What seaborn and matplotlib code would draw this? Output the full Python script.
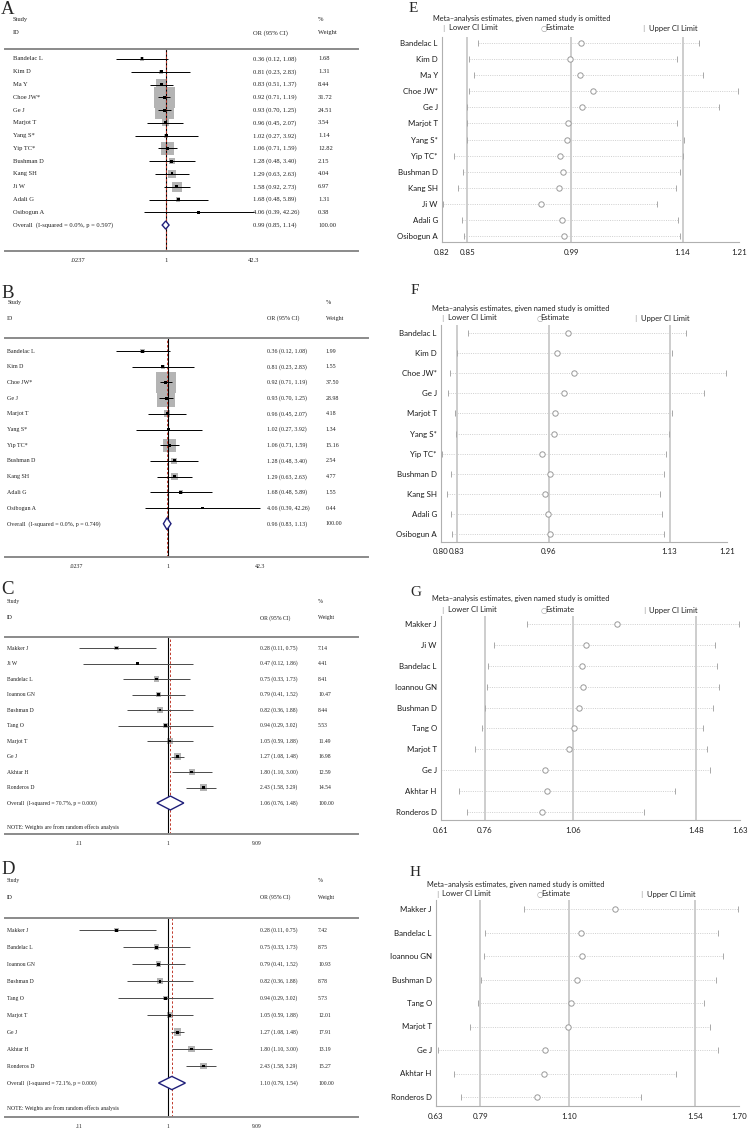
import numpy as np
import pandas as pd
import matplotlib
matplotlib.use("Agg")
import matplotlib.pyplot as plt
import seaborn as sns
from matplotlib.patches import Polygon
from matplotlib.ticker import NullLocator
from matplotlib.transforms import blended_transform_factory

# ---------------- data: forest plots (left column) ----------------
a_study = ["Bandelac L", "Kim D", "Ma Y", "Choe JW*", "Ge J", "Marjot T", "Yang S*",
           "Yip TC*", "Bushman D", "Kang SH", "Ji W", "Adali G", "Osibogun A"]
a_or = [0.36, 0.81, 0.83, 0.92, 0.93, 0.96, 1.02, 1.06, 1.28, 1.29, 1.58, 1.68, 4.06]
a_lo = [0.12, 0.23, 0.51, 0.71, 0.70, 0.45, 0.27, 0.71, 0.48, 0.63, 0.92, 0.48, 0.39]
a_hi = [1.08, 2.83, 1.37, 1.19, 1.25, 2.07, 3.92, 1.59, 3.40, 2.63, 2.73, 5.89, 42.26]
a_wt = [1.68, 1.31, 8.44, 31.72, 24.51, 3.54, 1.14, 12.82, 2.15, 4.04, 6.97, 1.31, 0.38]
a_overall = [0.99, 0.85, 1.14]
a_het = "Overall  (I-squared = 0.0%, p = 0.597)"
a_ticks = [0.0237, 1, 42.3]
a_ticklabels = [".0237", "1", "42.3"]

b_study = ["Bandelac L", "Kim D", "Choe JW*", "Ge J", "Marjot T", "Yang S*", "Yip TC*",
           "Bushman D", "Kang SH", "Adali G", "Osibogun A"]
b_or = [0.36, 0.81, 0.92, 0.93, 0.96, 1.02, 1.06, 1.28, 1.29, 1.68, 4.06]
b_lo = [0.12, 0.23, 0.71, 0.70, 0.45, 0.27, 0.71, 0.48, 0.63, 0.48, 0.39]
b_hi = [1.08, 2.83, 1.19, 1.25, 2.07, 3.92, 1.59, 3.40, 2.63, 5.89, 42.26]
b_wt = [1.99, 1.55, 37.50, 28.98, 4.18, 1.34, 15.16, 2.54, 4.77, 1.55, 0.44]
b_overall = [0.96, 0.83, 1.13]
b_het = "Overall  (I-squared = 0.0%, p = 0.749)"

c_study = ["Makker J", "Ji W", "Bandelac L", "Ioannou GN", "Bushman D", "Tang O",
           "Marjot T", "Ge J", "Akhtar H", "Ronderos D"]
c_or = [0.28, 0.47, 0.75, 0.79, 0.82, 0.94, 1.05, 1.27, 1.80, 2.43]
c_lo = [0.11, 0.12, 0.33, 0.41, 0.36, 0.29, 0.59, 1.08, 1.10, 1.58]
c_hi = [0.75, 1.86, 1.73, 1.52, 1.88, 3.02, 1.88, 1.48, 3.00, 3.29]
c_wt = [7.14, 4.41, 8.41, 10.47, 8.44, 5.53, 11.49, 16.98, 12.59, 14.54]
c_overall = [1.06, 0.76, 1.48]
c_het = "Overall  (I-squared = 70.7%, p = 0.000)"
c_ticks = [0.11, 1, 9.09]
c_ticklabels = [".11", "1", "9.09"]

d_study = ["Makker J", "Bandelac L", "Ioannou GN", "Bushman D", "Tang O", "Marjot T",
           "Ge J", "Akhtar H", "Ronderos D"]
d_or = [0.28, 0.75, 0.79, 0.82, 0.94, 1.05, 1.27, 1.80, 2.43]
d_lo = [0.11, 0.33, 0.41, 0.36, 0.29, 0.59, 1.08, 1.10, 1.58]
d_hi = [0.75, 1.73, 1.52, 1.88, 3.02, 1.88, 1.48, 3.00, 3.29]
d_wt = [7.42, 8.75, 10.93, 8.78, 5.73, 12.01, 17.91, 13.19, 15.27]
d_overall = [1.10, 0.79, 1.54]
d_het = "Overall  (I-squared = 72.1%, p = 0.000)"

note = "NOTE: Weights are from random effects analysis"

# ---------------- data: sensitivity plots (right column) ----------------
e_est = [1.003, 0.988, 1.002, 1.019, 1.004, 0.986, 0.985, 0.975, 0.979, 0.974, 0.950, 0.978, 0.980]
e_lo = [0.865, 0.852, 0.859, 0.853, 0.849, 0.850, 0.850, 0.832, 0.844, 0.838, 0.817, 0.843, 0.846]
e_hi = [1.162, 1.133, 1.168, 1.215, 1.189, 1.133, 1.142, 1.141, 1.136, 1.131, 1.106, 1.134, 1.136]
e_range = [0.816, 1.216]
e_ticklabels = ["0.82", "0.85", "0.99", "1.14", "1.21"]

f_est = [0.987, 0.971, 0.996, 0.982, 0.968, 0.967, 0.951, 0.961, 0.954, 0.959, 0.962]
f_lo = [0.846, 0.831, 0.820, 0.818, 0.828, 0.829, 0.809, 0.822, 0.816, 0.822, 0.824]
f_hi = [1.153, 1.134, 1.210, 1.179, 1.134, 1.129, 1.125, 1.122, 1.117, 1.120, 1.122]
f_range = [0.808, 1.211]
f_ticklabels = ["0.80", "0.83", "0.96", "1.13", "1.21"]

g_est = [1.212, 1.103, 1.091, 1.094, 1.081, 1.063, 1.047, 0.966, 0.972, 0.955]
g_lo = [0.902, 0.791, 0.770, 0.766, 0.761, 0.750, 0.725, 0.611, 0.671, 0.698]
g_hi = [1.628, 1.544, 1.550, 1.560, 1.539, 1.505, 1.516, 1.528, 1.407, 1.303]
g_range = [0.610, 1.630]
g_ticklabels = ["0.61", "0.76", "1.06", "1.48", "1.63"]

h_est = [1.262, 1.141, 1.145, 1.130, 1.108, 1.097, 1.017, 1.012, 0.988]
h_lo = [0.943, 0.805, 0.802, 0.793, 0.781, 0.755, 0.641, 0.697, 0.724]
h_hi = [1.690, 1.623, 1.639, 1.614, 1.574, 1.594, 1.623, 1.475, 1.351]
h_range = [0.635, 1.695]
h_ticklabels = ["0.63", "0.79", "1.10", "1.54", "1.70"]

sns.set_theme(style="white")
SERIF = ["Liberation Serif", "DejaVu Serif"]
SANS = ["Lato", "DejaVu Sans"]
plt.rcParams["font.family"] = SERIF

W, H = 749, 1130
fig = plt.figure(figsize=(W / 100, H / 100), dpi=100)


def px_axes(x0, y0, x1, y1):
    return fig.add_axes([x0 / W, 1 - y1 / H, (x1 - x0) / W, (y1 - y0) / H])


def letter(x, y, s, size):
    fig.text(x / W, 1 - y / H, s, fontsize=size, family=SERIF, va="center", ha="left")


def forest(box, study, orr, lo, hi, wt, overall, het, ticks, ticklabels, lay):
    ax = px_axes(*box)
    n = len(study)
    df = pd.DataFrame({"study": study, "oddsr": orr, "lo": lo, "hi": hi, "wt": wt,
                       "row": np.arange(n)})
    ax.set_xscale("log")
    ax.hlines(df["row"], df["lo"], df["hi"], color=lay["ci"], lw=0.7, zorder=2)
    # weight boxes (area ~ weight) and point estimates
    sns.scatterplot(data=df, x="oddsr", y="row", marker="s", s=df["wt"] * lay["k"],
                    color="#b4b4b4", edgecolor="none", linewidth=0, legend=False,
                    ax=ax, zorder=1)
    sns.scatterplot(data=df, x="oddsr", y="row", marker="s", s=4.5, color="black",
                    edgecolor="none", linewidth=0, legend=False, ax=ax, zorder=3)
    est, olo, ohi = overall
    hh = lay["dh"]
    ax.add_patch(Polygon([(olo, n), (est, n - hh), (ohi, n), (est, n + hh)],
                         closed=True, facecolor="white", edgecolor="#1f1f7a",
                         lw=1.0, zorder=4))
    ax.axvline(1, color="black", lw=0.8, zorder=1)
    ax.axvline(est, color="#c0392b", lw=0.7, ls=(0, (2.5, 2)), zorder=1)

    ax.set_xlim(lay["xlim"])
    ax.set_ylim(lay["ylim"])
    ax.set_xlabel("")
    ax.set_ylabel("")
    ax.set_yticks([])
    ax.set_xticks(ticks)
    ax.set_xticklabels(ticklabels)
    ax.xaxis.set_minor_locator(NullLocator())
    ax.tick_params(axis="x", length=2.5, width=0.6, color="#555", labelsize=lay["fs"],
                   pad=2.5, labelcolor="#222")
    for lab in ax.get_xticklabels():
        lab.set_family(SERIF)
    for sp in ["left", "right"]:
        ax.spines[sp].set_visible(False)
    for sp in ["top", "bottom"]:
        ax.spines[sp].set_color("#8a8a8a")
        ax.spines[sp].set_linewidth(1.4)

    tr = blended_transform_factory(ax.transAxes, ax.transData)
    cx = lay["cols"]
    fs = lay["fs"]
    kw = dict(transform=tr, va="center", fontsize=fs, color="#222", clip_on=False)
    for r in df.itertuples():
        ax.text(cx[0], r.row, r.study, **kw)
        ax.text(cx[1], r.row, f"{r.oddsr:.2f} ({r.lo:.2f}, {r.hi:.2f})", **kw)
        ax.text(cx[2], r.row, f"{r.wt:.2f}", **kw)
    ax.text(cx[0], n, het, **kw)
    ax.text(cx[1], n, f"{est:.2f} ({olo:.2f}, {ohi:.2f})", **kw)
    ax.text(cx[2], n, "100.00", **kw)
    hy = lay["head"]
    ax.text(cx[0], hy[0], "Study", **kw)
    ax.text(cx[0], hy[1], "ID", **kw)
    ax.text(cx[1], hy[1], "OR (95% CI)", **kw)
    ax.text(cx[2], hy[0], "%", **kw)
    ax.text(cx[2], hy[1], "Weight", **kw)
    if lay.get("note") is not None:
        ax.text(cx[0], lay["note"], note, **kw)
    return ax


def influence(box, study, est, lo, hi, overall, xr, ticklabels, head_y):
    ax = px_axes(*box)
    n = len(study)
    df = pd.DataFrame({"study": study, "est": est, "lo": lo, "hi": hi, "row": np.arange(n)})
    for v in [overall[1], overall[0], overall[2]]:
        ax.axvline(v, color="#c9c9c9", lw=1.3, zorder=0)
    ax.hlines(df["row"], df["lo"], df["hi"], color="#cfcfcf", lw=0.7,
              linestyles=(0, (1, 1.3)), zorder=1)
    for col in ["lo", "hi"]:
        sns.scatterplot(data=df, x=col, y="row", marker="|", s=22, color="#a8a8a8",
                        linewidth=0.7, legend=False, ax=ax, zorder=2)
    sns.scatterplot(data=df, x="est", y="row", marker="o", s=15, facecolor="white",
                    edgecolor="#9a9a9a", linewidth=0.7, legend=False, ax=ax, zorder=3)
    ax.set_xlim(xr)
    ax.set_ylim(n - 1 + 0.4, -0.4)
    ax.set_yticks(df["row"])
    ax.set_yticklabels(study)
    ax.set_xticks([xr[0], overall[1], overall[0], overall[2], xr[1]])
    ax.set_xticklabels(ticklabels)
    ax.set_xlabel("")
    ax.set_ylabel("")
    ax.tick_params(axis="y", length=0, pad=3, labelsize=5.7, labelcolor="#1a1a1a")
    ax.tick_params(axis="x", length=2, width=0.5, color="#999", pad=2.5,
                   labelsize=5.7, labelcolor="#1a1a1a")
    for lab in ax.get_xticklabels() + ax.get_yticklabels():
        lab.set_family(SANS)
    for sp in ["top", "right"]:
        ax.spines[sp].set_visible(False)
    for sp in ["left", "bottom"]:
        ax.spines[sp].set_color("#b0b0b0")
        ax.spines[sp].set_linewidth(0.8)

    x0, x1 = box[0], box[2]
    wpx = x1 - x0
    ty, ly = head_y
    fig.text((x0 - 9) / W, 1 - ty / H, "Meta\u2013analysis estimates, given named study is omitted",
             fontsize=5.3, family=SANS, va="center", color="#222")
    for frac, mark, txt, msize in [(0.0, "|", " Lower CI Limit", 5.0),
                                   (0.333, "\u25cb", "Estimate", 5.5),
                                   (0.675, "|", " Upper CI Limit", 5.0)]:
        fig.text((x0 + frac * wpx) / W, 1 - ly / H, mark, fontsize=msize,
                 family=["DejaVu Sans"], va="center", color="#a0a0a0")
        fig.text((x0 + frac * wpx + 4.5) / W, 1 - ly / H, txt, fontsize=5.5, family=SANS,
                 va="center", color="#222")
    return ax


# ---------------- left column ----------------
forest((5, 49, 358, 251), a_study, a_or, a_lo, a_hi, a_wt, a_overall, a_het,
       a_ticks, a_ticklabels,
       dict(xlim=(0.001059, 3535), ylim=(15.03, -0.78), k=7.2, dh=0.32, fs=4.7,
            ci="black", cols=(0.023, 0.7025, 0.887), head=(-3.05, -2.04)))
forest((5, 338, 368, 557), b_study, b_or, b_lo, b_hi, b_wt, b_overall, b_het,
       a_ticks, a_ticklabels,
       dict(xlim=(0.001326, 3396), ylim=(13.12, -0.83), k=5.9, dh=0.38, fs=4.3,
            ci="black", cols=(0.006, 0.722, 0.884), head=(-3.06, -2.1)))
forest((5, 637, 358, 834), c_study, c_or, c_lo, c_hi, c_wt, c_overall, c_het,
       c_ticks, c_ticklabels,
       dict(xlim=(0.01751, 111.6), ylim=(12.0, -0.71), k=1.6, dh=0.45, fs=4.1,
            ci="#4a4a4a", cols=(0.006, 0.722, 0.887), head=(-2.97, -1.94), note=11.55))
forest((5, 918, 358, 1117), d_study, d_or, d_lo, d_hi, d_wt, d_overall, d_het,
       c_ticks, c_ticklabels,
       dict(xlim=(0.01751, 111.6), ylim=(11.0, -0.71), k=1.6, dh=0.39, fs=4.1,
            ci="#4a4a4a", cols=(0.006, 0.722, 0.887), head=(-2.94, -1.94), note=10.47))

# ---------------- right column ----------------
influence((442, 36.6, 739, 242.4), a_study, e_est, e_lo, e_hi, a_overall, e_range,
          e_ticklabels, (18, 28))
influence((441, 325, 727, 542), b_study, f_est, f_lo, f_hi, b_overall, f_range,
          f_ticklabels, (308, 318))
influence((441, 615.6, 740, 820.4), c_study, g_est, g_lo, g_hi, c_overall, g_range,
          g_ticklabels, (598, 610))
influence((436, 899.6, 739, 1106.4), d_study, h_est, h_lo, h_hi, d_overall, h_range,
          h_ticklabels, (884, 894))

for x, y, s in [(1, 9, "A"), (1, 294, "B"), (1, 590, "C"), (1, 870, "D")]:
    letter(x, y, s, 13.5)
for x, y, s in [(409, 8, "E"), (411, 290, "F"), (410, 592, "G"), (410, 872, "H")]:
    letter(x, y, s, 11)

fig.savefig("out.png", dpi=100, facecolor="white")
